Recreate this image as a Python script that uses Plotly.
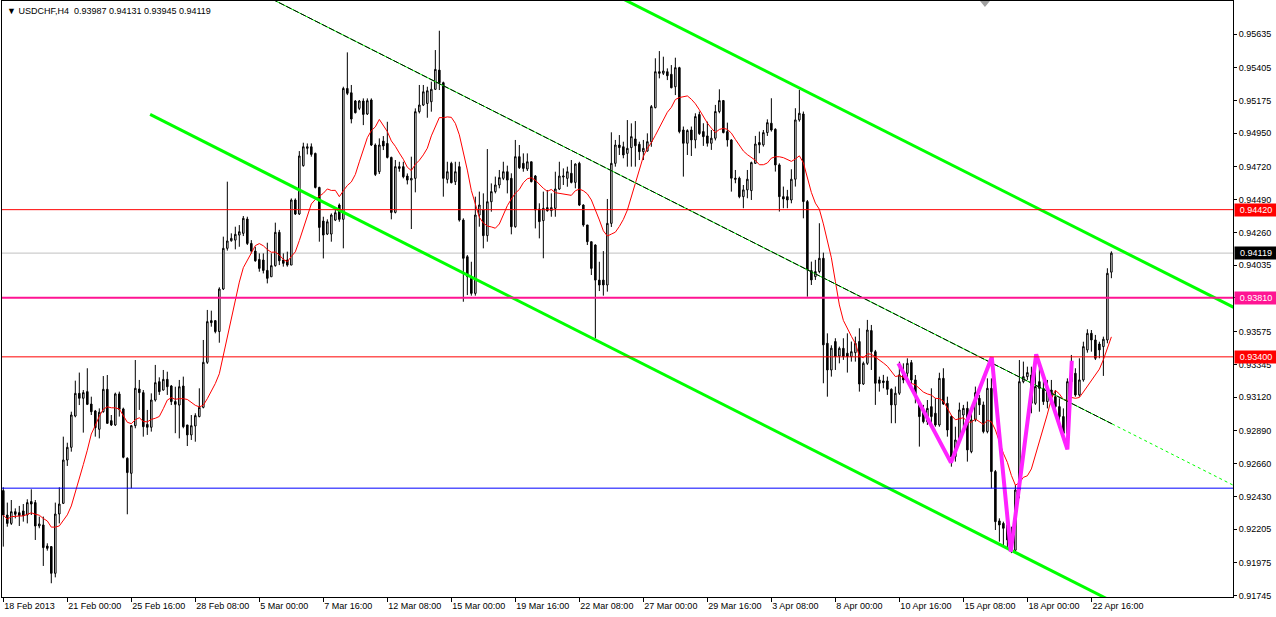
import numpy as np
import pandas as pd
import plotly.graph_objects as go

# USDCHF H4 candles, prices in points (1 point = 0.00001)
OPEN = [
    92473, 92304, 92246, 92327, 92320, 92332, 92304, 92397, 92390, 92228,
    92235, 92089, 92085, 91900, 92311, 92385, 92685, 92773, 92990, 93147,
    93113, 93159, 93073, 93025, 92898, 93020, 93175, 92958, 92928, 93143,
    93039, 92697, 92593, 92923, 93177, 93152, 92932, 92912, 93101, 93228,
    93170, 93244, 93198, 93090, 93066, 93198, 92928, 92859, 92921, 92986,
    93050, 93362, 93651, 93651, 93575, 93870, 94152, 94205, 94209, 94244,
    94256, 94355, 94186, 94133, 94075, 94071, 93999, 93955, 94032, 94263,
    94071, 94071, 94036, 94487, 94390, 94725, 94845, 94856, 94810, 94574,
    94341, 94251, 94251, 94348, 94452, 94353, 95260, 95230, 95173, 95122,
    95173, 95083, 95180, 94868, 94683, 94895, 94879, 94782, 94401, 94718,
    94718, 94653, 94625, 94637, 95099, 95145, 95156, 95168, 95254, 95387,
    95300, 94630, 94741, 94614, 94718, 94348, 94094, 93944, 93840, 94383,
    94418, 94240, 94475, 94545, 94591, 94637, 94683, 94637, 94302, 94787,
    94741, 94702, 94752, 94653, 94424, 94344, 94434, 94413, 94429, 94563,
    94646, 94637, 94672, 94609, 94741, 94452, 94314, 94198, 94175, 93932,
    93932, 93898, 94325, 94741, 94868, 94856, 94810, 94850, 94910, 94873,
    94822, 94826, 94891, 95127, 95376, 95365, 95376, 95358, 95272, 95404,
    94972, 94880, 94972, 94903, 95079, 94961, 94931, 94880, 94915, 95100,
    95176, 94961, 94903, 94638, 94638, 94510, 94557, 94552, 94741, 94885,
    94869, 94954, 95019, 94977, 94730, 94510, 94510, 94487, 94631, 95042,
    95083, 94476, 93998, 93956, 93991, 94083, 93494, 93309, 93506, 93406,
    93459, 93425, 93402, 93429, 93506, 93212, 93355, 93582, 93436, 93240,
    93233, 93233, 93175, 93067, 93148, 93275, 93286, 93360, 93240, 93078,
    93020, 92951, 93055, 93009, 92928, 93251, 93078, 92986, 92708, 92824,
    92997, 93043, 92743, 92963, 93113, 93067, 92882, 93182, 92605, 92263,
    92246, 92235, 92131, 92060, 92477, 93228, 93263, 93274, 93078, 93228,
    93182, 93090, 93170, 93124, 93055, 92986, 92870, 93228, 93286, 93136,
    93240, 93448, 93563, 93517, 93489, 93471, 93517, 93987,
]
HIGH = [
    92496, 92390, 92408, 92350, 92367, 92380, 92413, 92482, 92408, 92293,
    92293, 92108, 92089, 92390, 92496, 92847, 92805, 93020, 93235, 93291,
    93170, 93321, 93124, 93032, 93043, 93267, 93274, 92997, 93152, 93159,
    93048, 92704, 92928, 93378, 93240, 93170, 93032, 93147, 93344, 93258,
    93309, 93297, 93205, 93193, 93240, 93263, 92928, 92997, 93009, 93182,
    93517, 93725, 93720, 93655, 93882, 94233, 94614, 94256, 94302, 94313,
    94376, 94371, 94209, 94163, 94117, 94117, 94191, 94117, 94330, 94280,
    94117, 94129, 94498, 94498, 94826, 94884, 94879, 94879, 94815, 94579,
    94371, 94353, 94394, 94417, 94463, 95272, 95510, 95284, 95180, 95180,
    95191, 95191, 95191, 94879, 94914, 94930, 95029, 94787, 94764, 94752,
    94752, 94671, 94787, 95122, 95284, 95284, 95272, 95307, 95526, 95660,
    95307, 94752, 94752, 94752, 94752, 94360, 94106, 94059, 94510, 94545,
    94533, 94840, 94602, 94649, 94695, 94752, 94725, 94672, 94903, 94868,
    94810, 94810, 94752, 94660, 94464, 94545, 94556, 94533, 94683, 94752,
    94706, 94718, 94764, 94741, 94752, 94457, 94314, 94198, 94180, 94059,
    94133, 94494, 94956, 94903, 94937, 94891, 95041, 95018, 95034, 94891,
    94903, 94949, 95145, 95469, 95519, 95480, 95399, 95422, 95473, 95410,
    94996, 94977, 94996, 95088, 95100, 95019, 95030, 94972, 95146, 95254,
    95180, 95023, 94908, 94695, 94649, 94591, 94695, 94753, 94931, 94961,
    94972, 95046, 95192, 94984, 94741, 94580, 94557, 94700, 95123, 95250,
    95100, 94487, 94060, 94072, 94326, 94122, 93563, 93480, 93529, 93471,
    93529, 93563, 93506, 93540, 93598, 93367, 93656, 93621, 93448, 93263,
    93275, 93263, 93182, 93194, 93367, 93355, 93390, 93378, 93274, 93101,
    93067, 93101, 93182, 93113, 93290, 93321, 93124, 92997, 92916, 93083,
    93067, 93090, 93009, 93194, 93136, 93090, 93251, 93251, 92616, 92281,
    92258, 92246, 92223, 92512, 93378, 93367, 93332, 93332, 93332, 93321,
    93240, 93240, 93240, 93170, 93113, 93043, 93251, 93413, 93321, 93390,
    93505, 93591, 93586, 93552, 93505, 93540, 94014, 94131,
]
LOW = [
    92085, 92223, 92235, 92281, 92228, 92258, 92246, 92304, 92131, 92212,
    91951, 92057, 91831, 91872, 92246, 92380, 92644, 92743, 92981, 93066,
    92875, 93066, 92997, 92847, 92835, 93013, 92939, 92921, 92921, 92986,
    92697, 92309, 92489, 92905, 93032, 92847, 92859, 92882, 93090, 93136,
    93166, 93136, 93066, 92871, 92835, 92905, 92782, 92824, 92812, 92981,
    93043, 93351, 93609, 93563, 93498, 93863, 94136, 94198, 94145, 94163,
    94237, 94175, 94117, 94059, 93990, 93978, 93909, 93955, 94025, 94036,
    94025, 94025, 94036, 94383, 94383, 94718, 94803, 94787, 94567, 94198,
    94082, 94244, 94198, 94341, 94336, 94152, 95214, 95018, 95087, 95110,
    95006, 95076, 94861, 94653, 94667, 94833, 94775, 94353, 94394, 94683,
    94637, 94595, 94286, 94540, 95087, 95138, 95057, 95099, 95249, 95249,
    94510, 94602, 94602, 94591, 94337, 93782, 93828, 93824, 93824, 94302,
    94152, 94198, 94406, 94533, 94568, 94625, 94533, 94249, 94295, 94702,
    94683, 94688, 94609, 94290, 94221, 94083, 94406, 94371, 94371, 94556,
    94591, 94579, 94602, 94568, 94445, 94302, 94175, 93967, 93528, 93856,
    93824, 93852, 94300, 94718, 94799, 94776, 94718, 94718, 94718, 94764,
    94764, 94822, 94856, 95122, 95330, 95353, 95318, 95261, 95214, 94949,
    94649, 94799, 94792, 94845, 94938, 94862, 94857, 94834, 94900, 95088,
    94949, 94857, 94545, 94603, 94499, 94430, 94499, 94487, 94737, 94811,
    94857, 94931, 94961, 94684, 94407, 94430, 94430, 94464, 94580, 95030,
    94360, 93817, 93898, 93933, 93979, 93217, 93124, 93263, 93309, 93355,
    93379, 93291, 93367, 93367, 93159, 93205, 93344, 93309, 93067, 93159,
    93182, 93136, 92940, 92940, 93136, 93217, 93240, 93217, 93078, 92778,
    92939, 92928, 92916, 92916, 92916, 93067, 92847, 92639, 92674, 92789,
    92916, 92674, 92732, 92951, 92997, 92870, 92870, 92489, 92200, 92119,
    92096, 92073, 92040, 92050, 92420, 93217, 93240, 93009, 93067, 93020,
    93067, 93043, 93067, 93020, 92916, 92824, 92850, 93217, 93124, 93124,
    93228, 93429, 93436, 93378, 93390, 93268, 93494, 93945,
]
CLOSE = [
    92304, 92246, 92327, 92309, 92300, 92300, 92390, 92380, 92228, 92242,
    92078, 92073, 91900, 92311, 92380, 92685, 92773, 92997, 93147, 93113,
    93152, 93071, 93020, 92909, 93016, 93175, 92939, 92928, 93143, 93036,
    92704, 92598, 92923, 93182, 93152, 92916, 92912, 93101, 93221, 93159,
    93244, 93193, 93090, 93071, 93193, 92916, 92859, 92923, 92993, 93050,
    93362, 93644, 93637, 93575, 93870, 94152, 94203, 94221, 94249, 94267,
    94360, 94186, 94133, 94066, 94013, 93999, 93944, 94032, 94263, 94066,
    94048, 94036, 94487, 94390, 94792, 94856, 94856, 94803, 94574, 94297,
    94244, 94336, 94383, 94399, 94353, 95260, 95226, 95048, 95092, 95173,
    95080, 95175, 94868, 94664, 94868, 94861, 94782, 94401, 94718, 94706,
    94648, 94625, 94637, 95099, 95145, 95237, 95244, 95254, 95392, 95300,
    94637, 94683, 94607, 94683, 94348, 94083, 93956, 93840, 94383, 94452,
    94240, 94475, 94545, 94591, 94642, 94683, 94625, 94302, 94787, 94711,
    94706, 94752, 94614, 94418, 94337, 94429, 94413, 94434, 94563, 94653,
    94653, 94683, 94609, 94736, 94452, 94314, 94198, 94013, 93932, 93898,
    93898, 94325, 94741, 94868, 94850, 94799, 94845, 94926, 94863, 94822,
    94845, 94891, 95134, 95376, 95365, 95381, 95348, 95265, 95404, 94961,
    94880, 94968, 94903, 95065, 94947, 94926, 94880, 94915, 95100, 95176,
    94954, 94903, 94638, 94631, 94510, 94557, 94631, 94746, 94875, 94869,
    94954, 95023, 94972, 94730, 94510, 94494, 94487, 94631, 95042, 95088,
    94476, 94002, 93933, 93991, 94083, 93483, 93309, 93460, 93402, 93459,
    93402, 93402, 93436, 93494, 93212, 93355, 93586, 93436, 93217, 93217,
    93222, 93175, 93067, 93148, 93275, 93240, 93355, 93240, 93124, 92986,
    92951, 93043, 92986, 92928, 93251, 93073, 92893, 92708, 92824, 93032,
    93043, 92755, 92963, 93152, 93067, 92882, 93182, 92605, 92258, 92235,
    92212, 92131, 92060, 92477, 93228, 93263, 93291, 93078, 93194, 93182,
    93090, 93170, 93124, 93055, 92986, 92870, 93228, 93286, 93136, 93240,
    93471, 93563, 93517, 93390, 93448, 93522, 93979, 94119,
]
POINT = 0.00001

# one label every 16 bars
TICK_STEP = 16
TICK_LABELS = [
    '18 Feb 2013', '21 Feb 00:00', '25 Feb 16:00', '28 Feb 08:00', '5 Mar 00:00',
    '7 Mar 16:00', '12 Mar 08:00', '15 Mar 00:00', '19 Mar 16:00', '22 Mar 08:00',
    '27 Mar 00:00', '29 Mar 16:00', '3 Apr 08:00', '8 Apr 00:00', '10 Apr 16:00',
    '15 Apr 08:00', '18 Apr 00:00', '22 Apr 16:00',
]
PRICE_TICKS = [0.95635, 0.95405, 0.95175, 0.94950, 0.94720, 0.94490, 0.94260,
               0.94035, 0.93810, 0.93575, 0.93345, 0.93120, 0.92890, 0.92660,
               0.92430, 0.92205, 0.91975, 0.91745]

# horizontal levels: price, colour, width, label box
LEVELS = [
    (0.94420, '#FF0000', 1, True),
    (0.93810, '#FF1493', 2, True),
    (0.93400, '#FF0000', 1, True),
    (0.92490, '#0000FF', 1, False),
]

# trend lines, anchors as (bar, price)
UPPER_CHANNEL = [(150.0, 0.95949), (310.0, 0.93709)]
LOWER_CHANNEL = [(36.7, 0.95080), (280.0, 0.91666)]
MID_LINE = [(60.0, 0.95980), (277.2, 0.92935)]
MID_LINE_EXT = [(277.2, 0.92935), (310.0, 0.92475)]

# hand-drawn zigzag
ZZ_BARS = [223.75, 236.9, 247.1, 251.85, 258.2, 266.0, 267.1]
ZZ_PRICES = [0.93355, 0.92667, 0.93397, 0.92050, 0.93418, 0.92759, 0.93373]

MA_PERIOD = 10

FONT = "Tahoma, 'Liberation Sans', Arial, sans-serif"

o = np.array(OPEN) * POINT
h = np.array(HIGH) * POINT
l = np.array(LOW) * POINT
c = np.array(CLOSE) * POINT
bars = np.arange(len(c))
ma = pd.Series(c).rolling(MA_PERIOD, min_periods=1).mean()
last_close = c[-1]

fig = go.Figure()

fig.add_trace(go.Candlestick(
    x=bars, open=o, high=h, low=l, close=c,
    increasing=dict(line=dict(color='black', width=1), fillcolor='white'),
    decreasing=dict(line=dict(color='black', width=1), fillcolor='black'),
    whiskerwidth=0,
    hoverinfo='skip',
    showlegend=False
))

fig.add_trace(go.Scatter(
    x=bars, y=ma, mode='lines',
    line=dict(color='#FF0000', width=1),
    hoverinfo='skip', showlegend=False
))


def add_segment(points, color, width, dash='solid'):
    fig.add_trace(go.Scatter(
        x=[p[0] for p in points], y=[p[1] for p in points],
        mode='lines', line=dict(color=color, width=width, dash=dash),
        hoverinfo='skip', showlegend=False
    ))


add_segment(UPPER_CHANNEL, '#00FF00', 3)
add_segment(LOWER_CHANNEL, '#00FF00', 3)
add_segment(MID_LINE, '#00FF00', 1)
add_segment(MID_LINE, '#000000', 1, dash='6px,2px')
add_segment(MID_LINE_EXT, '#00FF00', 1, dash='3px,3px')

fig.add_trace(go.Scatter(
    x=ZZ_BARS, y=ZZ_PRICES, mode='lines',
    line=dict(color='#FF22FF', width=4),
    hoverinfo='skip', showlegend=False
))

shapes = []
annotations = []
for price, color, width, boxed in LEVELS:
    shapes.append(dict(type='line', xref='paper', x0=0, x1=1, yref='y',
                       y0=price, y1=price, line=dict(color=color, width=width),
                       layer='above'))
    if boxed:
        annotations.append(dict(
            xref='paper', x=1, xanchor='left', xshift=1,
            yref='y', y=price, yanchor='middle',
            text=f'{price:.5f}', showarrow=False, bgcolor=color,
            font=dict(family=FONT, size=9, color='white'),
            borderpad=1, width=40, align='center'
        ))

# current price line and box
shapes.append(dict(type='line', xref='paper', x0=0, x1=1, yref='y',
                   y0=last_close, y1=last_close,
                   line=dict(color='#C0C0C0', width=1), layer='below'))
annotations.append(dict(
    xref='paper', x=1, xanchor='left', xshift=1,
    yref='y', y=last_close, yanchor='middle',
    text=f'{last_close:.5f}', showarrow=False, bgcolor='black',
    font=dict(family=FONT, size=9, color='white'),
    borderpad=1, width=40, align='center'
))

# chart header
annotations.append(dict(
    xref='paper', x=0, xanchor='left', xshift=3,
    yref='paper', y=1, yanchor='top', yshift=-3,
    text='\u25BC USDCHF,H4\u00a0\u00a0' + ' '.join(f'{v:.5f}' for v in (o[-1], h[-1], l[-1], c[-1])),
    showarrow=False, font=dict(family=FONT, size=9, color='black')
))

# small shift marker at top
shapes.append(dict(type='path', xref='paper', yref='paper',
                   path='M 0.7945 1 L 0.8025 1 L 0.7985 0.99 Z',
                   fillcolor='#A0A0A0', line=dict(width=0)))

fig.update_layout(
    width=1276, height=617,
    margin=dict(l=2, r=43, t=1, b=20),
    paper_bgcolor='white', plot_bgcolor='white',
    font=dict(family=FONT, size=9, color='black'),
    showlegend=False,
    hovermode=False,
    boxgap=0.45,
    shapes=shapes,
    annotations=annotations,
    xaxis=dict(
        range=[-0.325, 307.4],
        tickvals=list(range(0, TICK_STEP * len(TICK_LABELS), TICK_STEP)),
        ticktext=TICK_LABELS,
        ticks='outside', ticklen=4, tickcolor='black',
        ticklabelposition='outside right',
        showgrid=False, zeroline=False,
        showline=True, mirror=True, linecolor='black', linewidth=1,
        rangeslider=dict(visible=False),
        tickfont=dict(family=FONT, size=9, color='black'),
    ),
    yaxis=dict(
        side='right',
        range=[0.917358, 0.95866],
        tickvals=PRICE_TICKS,
        ticktext=[f'{v:.5f}' for v in PRICE_TICKS],
        ticks='outside', ticklen=3, tickcolor='black',
        showgrid=False, zeroline=False,
        showline=True, mirror=True, linecolor='black', linewidth=1,
        tickfont=dict(family=FONT, size=9, color='black'),
    ),
)

fig.write_html("out.html", config={'displayModeBar': False},
               post_script="document.body.style.margin='0px';")
